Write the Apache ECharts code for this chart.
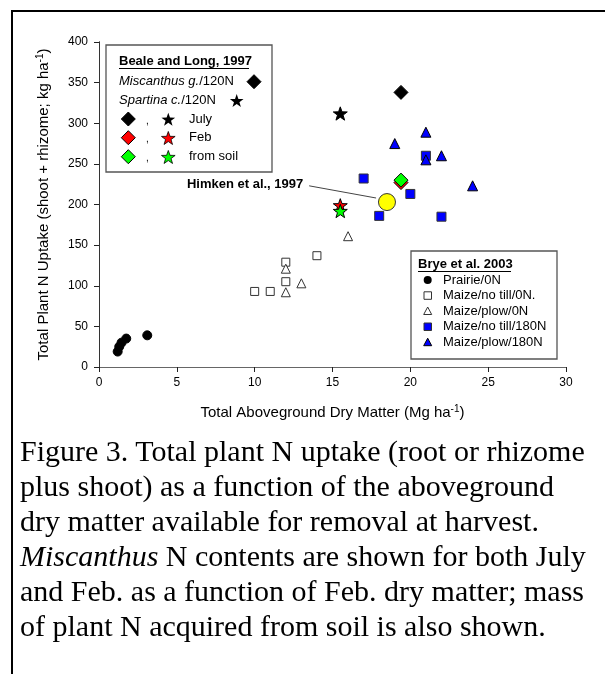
<!DOCTYPE html>
<html><head><meta charset="utf-8">
<script src="https://cdn.jsdelivr.net/npm/echarts@6/dist/echarts.min.js"></script>
<style>
html,body{margin:0;padding:0;background:#fff;}
#wrap{position:relative;width:605px;height:674px;overflow:hidden;background:#fff;}
#chart{position:absolute;left:0;top:0;width:605px;height:674px;}
#frame{position:absolute;left:11px;top:10px;width:600px;height:670px;border-top:2px solid #000;border-left:2px solid #000;pointer-events:none;}
#caption{position:absolute;left:20px;top:433px;font-family:'Liberation Serif','Times New Roman',serif;font-size:30px;line-height:35px;color:#000;white-space:nowrap;}
</style></head>
<body>
<div id="wrap">
<div id="chart"></div>
<div id="frame"></div>
<div id="caption">Figure 3. Total plant N uptake (root or rhizome<br>plus shoot) as a function of the aboveground<br>dry matter available for removal at harvest.<br><i>Miscanthus</i> N contents are shown for both July<br>and Feb. as a function of Feb. dry matter; mass<br>of plant N acquired from soil is also shown.</div>
</div>
<script>
// ---- data (x = dry matter Mg/ha, y = N uptake kg/ha) ----
const prairieX = [1.2, 1.3, 1.45, 1.75, 3.1];
const prairieY = [19, 25, 30, 35, 39];
const noTill0X = [10, 11, 12, 12, 14];
const noTill0Y = [93, 93, 129, 105, 137];
const plow0X = [12, 12, 13, 16];
const plow0Y = [121, 92, 103, 161];
const noTill180X = [17, 21, 20, 18, 22];
const noTill180Y = [232, 260, 213, 186, 185];
const plow180X = [21, 19, 22, 21, 24];
const plow180Y = [289, 275, 260, 255, 223];
const miscJulyX = [19.4];
const miscJulyY = [338];
const miscFebX = [19.4];
const miscFebY = [227];
const miscSoilX = [19.4];
const miscSoilY = [230];
const spartJulyX = [15.5];
const spartJulyY = [312];
const spartFebX = [15.5];
const spartFebY = [199];
const spartSoilX = [15.5];
const spartSoilY = [192];
const himkenX = [18.5];
const himkenY = [203];
const himkenLabel = 'Himken et al., 1997';
const himkenArrowFrom = [13.5, 223];
const himkenArrowTo = [17.8, 208];
const xTitle = 'Total Aboveground Dry Matter (Mg ha';
const yTitle = 'Total Plant N Uptake (shoot + rhizome; kg ha';

const zip = (xs, ys) => xs.map((x, i) => [x, ys[i]]);
const FONT = "'Liberation Sans', Arial, sans-serif";
const STAR_PTS = [[0,-10],[2.35,-3.24],[9.51,-3.09],[3.8,1.24],[5.88,8.09],[0,4],[-5.88,8.09],[-3.8,1.24],[-9.51,-3.09],[-2.35,-3.24]];
const STAR = 'path://M' + STAR_PTS.map(p => p.join(',')).join(' L') + ' Z';

function sc(name, xs, ys, symbol, size, fill, stroke, extra) {
  return Object.assign({
    name, type: 'scatter', data: zip(xs, ys), symbol, symbolSize: size,
    symbolKeepAspect: true,
    itemStyle: { color: fill, borderColor: stroke, borderWidth: 1, opacity: 1 },
    emphasis: { disabled: true }
  }, extra || {});
}

// legend graphics
function diamond(cx, cy, r, fill) {
  return { type: 'polygon', shape: { points: [[cx, cy - r], [cx + r, cy], [cx, cy + r], [cx - r, cy]] },
    style: { fill, stroke: '#000', lineWidth: 1 } };
}
function star(cx, cy, s, fill) {
  const k = s / 19.5;
  return { type: 'polygon', shape: { points: STAR_PTS.map(p => [cx + p[0] * k, cy + 0.95 + p[1] * k]) },
    style: { fill, stroke: '#000', lineWidth: fill === '#000' ? 0 : 0.8 } };
}
function txt(x, y, text, opts) {
  return { type: 'text', x, y, style: Object.assign({ text, fill: '#000', font: '13px ' + FONT, verticalAlign: 'middle' }, opts || {}) };
}
function uline(x1, x2, y) {
  return { type: 'line', shape: { x1, y1: y, x2, y2: y }, style: { stroke: '#000', lineWidth: 1 } };
}

const rowsB = [119, 137.7, 156.7];
const graphics = [
  { type: 'rect', shape: { x: 106, y: 45, width: 166, height: 127 }, style: { fill: '#fff', stroke: '#555', lineWidth: 1.3 } },
  txt(119, 61, 'Beale and Long, 1997', { font: 'bold 13px ' + FONT }),
  uline(119, 249, 68.5),
  txt(119, 81.7, '{i|Miscanthus g.}/120N', { rich: { i: { fontStyle: 'italic', fontSize: 13, fontFamily: FONT } } }),
  diamond(254, 81.7, 7, '#000'),
  txt(119, 100.3, '{i|Spartina c.}/120N', { rich: { i: { fontStyle: 'italic', fontSize: 13, fontFamily: FONT } } }),
  star(236.7, 100.3, 14, '#000'),
  diamond(128.3, rowsB[0], 7, '#000'), txt(146, rowsB[0] + 2, ',', { font: '10px ' + FONT }), star(168.3, rowsB[0], 14, '#000'), txt(189, rowsB[0], 'July'),
  diamond(128.3, rowsB[1], 7, '#ff0000'), txt(146, rowsB[1] + 2, ',', { font: '10px ' + FONT }), star(168.3, rowsB[1], 14, '#ff0000'), txt(189, rowsB[1], 'Feb'),
  diamond(128.3, rowsB[2], 7, '#00ff00'), txt(146, rowsB[2] + 2, ',', { font: '10px ' + FONT }), star(168.3, rowsB[2], 14, '#00ff00'), txt(189, rowsB[2], 'from soil'),

  { type: 'rect', shape: { x: 411, y: 251, width: 146, height: 108 }, style: { fill: '#fff', stroke: '#555', lineWidth: 1.3 } },
  txt(418, 264, 'Brye et al. 2003', { font: 'bold 13px ' + FONT }),
  uline(418, 511, 271.5),
  { type: 'circle', shape: { cx: 427.7, cy: 280, r: 4 }, style: { fill: '#000' } },
  txt(443, 280, 'Prairie/0N'),
  { type: 'rect', shape: { x: 424, y: 291.8, width: 7.5, height: 7.5 }, style: { fill: '#fff', stroke: '#333', lineWidth: 1 } },
  txt(443, 295.6, 'Maize/no till/0N.'),
  { type: 'polygon', shape: { points: [[427.7, 307], [431.7, 314.5], [423.7, 314.5]] }, style: { fill: '#fff', stroke: '#333', lineWidth: 1 } },
  txt(443, 311.2, 'Maize/plow/0N'),
  { type: 'rect', shape: { x: 424, y: 323, width: 7.5, height: 7.5 }, style: { fill: '#0000ff', stroke: '#333', lineWidth: 1 } },
  txt(443, 326.8, 'Maize/no till/180N'),
  { type: 'polygon', shape: { points: [[427.7, 338.2], [431.7, 345.7], [423.7, 345.7]] }, style: { fill: '#0000ff', stroke: '#000', lineWidth: 1 } },
  txt(443, 342.4, 'Maize/plow/180N')
];

const chart = echarts.init(document.getElementById('chart'), null, { renderer: 'canvas' });
const axisCommon = {
  axisLine: { show: true, lineStyle: { color: '#222', width: 1 } },
  axisTick: { show: true, inside: false, length: 5, lineStyle: { color: '#222' } },
  splitLine: { show: false },
};
const titleRich = {
  a: { fontSize: 15, fontFamily: FONT, color: '#000', lineHeight: 18 },
  s: { fontSize: 10, fontFamily: FONT, color: '#000', verticalAlign: 'top', lineHeight: 18, padding: [0, 0, 7, 0] }
};
chart.setOption({
  animation: false,
  backgroundColor: 'transparent',
  grid: { left: 99, right: 39, top: 42, bottom: 307, containLabel: false },
  xAxis: [
    Object.assign({}, axisCommon, {
      type: 'value', min: 0, max: 30, interval: 5,
      axisLabel: { color: '#000', fontSize: 12, fontFamily: FONT, margin: 10 },
      name: '{a|' + xTitle + '}{s|-1}{a|)}', nameLocation: 'middle', nameGap: 37,
      nameTextStyle: { rich: titleRich }
    }),
    { type: 'value', min: 0, max: 30, position: 'top', axisLine: { show: true, lineStyle: { color: '#666' } }, axisTick: { show: false }, axisLabel: { show: false }, splitLine: { show: false } }
  ],
  yAxis: [
    Object.assign({}, axisCommon, {
      type: 'value', min: 0, max: 400, interval: 50,
      axisLabel: { color: '#000', fontSize: 12, fontFamily: FONT, margin: 11 },
      name: '{a|' + yTitle + '}{s|-1}{a|)}', nameLocation: 'middle', nameGap: 46, nameRotate: 90,
      nameTextStyle: { rich: titleRich }
    }),
    { type: 'value', min: 0, max: 400, position: 'right', axisLine: { show: true, lineStyle: { color: '#333' } }, axisTick: { show: false }, axisLabel: { show: false }, splitLine: { show: false } }
  ],
  graphic: graphics,
  series: [
    sc('Prairie/0N', prairieX, prairieY, 'circle', 9, '#000', '#000'),
    sc('Maize/no till/0N.', noTill0X, noTill0Y, 'rect', 8, '#fff', '#333'),
    sc('Maize/plow/0N', plow0X, plow0Y, 'triangle', 9, '#fff', '#333'),
    sc('Maize/no till/180N', noTill180X, noTill180Y, 'rect', 9, '#0000ff', '#333'),
    sc('Maize/plow/180N', plow180X, plow180Y, 'triangle', 10, '#0000ff', '#000'),
    sc('Miscanthus July', miscJulyX, miscJulyY, 'diamond', 14, '#000', '#000'),
    sc('Miscanthus Feb', miscFebX, miscFebY, 'diamond', 14, '#ff0000', '#000'),
    sc('Miscanthus from soil', miscSoilX, miscSoilY, 'diamond', 14, '#00ff00', '#000'),
    sc('Spartina July', spartJulyX, spartJulyY, STAR, 14, '#000', '#000'),
    sc('Spartina Feb', spartFebX, spartFebY, STAR, 14, '#ff0000', '#000'),
    sc('Spartina from soil', spartSoilX, spartSoilY, STAR, 14, '#00ff00', '#000'),
    sc('Himken', himkenX, himkenY, 'circle', 17, '#ffff00', '#333', {
      markLine: {
        silent: true, animation: false,
        symbol: ['none', 'arrow'], symbolSize: [0, 7],
        lineStyle: { color: '#444', width: 1, type: 'solid' },
        label: { show: true, position: 'start', formatter: himkenLabel, fontWeight: 'bold', fontSize: 13, fontFamily: FONT, color: '#000', distance: 6 },
        emphasis: { disabled: true },
        data: [[{ coord: himkenArrowFrom }, { coord: himkenArrowTo }]]
      }
    })
  ]
});
</script>
</body></html>
